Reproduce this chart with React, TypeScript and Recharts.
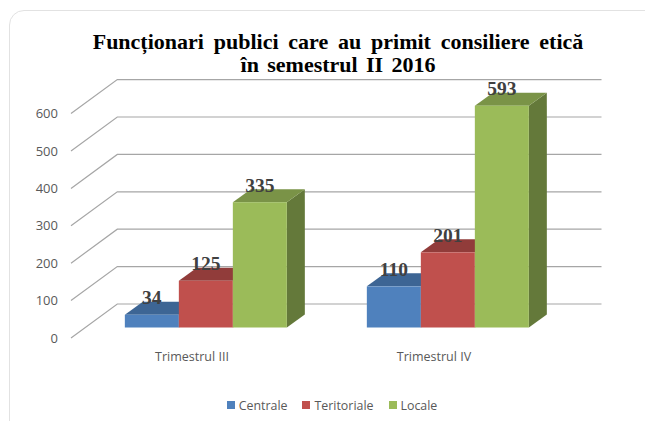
import React from 'react';
import { BarChart, Bar, XAxis, YAxis, CartesianGrid, Legend } from 'recharts';

const categories = ['Trimestrul III', 'Trimestrul IV'];
const centrale = [34, 110];
const teritoriale = [125, 201];
const locale = [335, 593];
const yTicks = [0, 100, 200, 300, 400, 500, 600];

const series = [
    { key: 'centrale', name: 'Centrale', color: '#4F81BD', top: '#3D6594', side: '#35577F' },
    { key: 'teritoriale', name: 'Teritoriale', color: '#C0504D', top: '#913C3A', side: '#7F3533' },
    { key: 'locale', name: 'Locale', color: '#9BBB59', top: '#7A9347', side: '#64793A' },
];

const data = categories.map((name, i) => ({
    name,
    centrale: centrale[i],
    teritoriale: teritoriale[i],
    locale: locale[i],
}));

// fake 3D: where the bars stand inside the floor, and how deep they are
const BAR_DX = 13.5;
const BAR_DY = -10.5;
const DEPTH_X = 18;
const DEPTH_Y = -13;
// wall offset from the front edge of the floor
const WALL_DX = 46.3;
const WALL_DY = -34;
const WALL_RIGHT = 601.5;
const FONT = '"Open Sans", sans-serif';
const SERIF = '"Liberation Serif", serif';

const Box3D = (color: string, top: string, side: string) => (props: any) => {
    const x = props.x + BAR_DX;
    const y = props.y + BAR_DY;
    const { width, height } = props;
    return (
        <g>
            <polygon
                points={`${x + width},${y} ${x + width + DEPTH_X},${y + DEPTH_Y} ${x + width + DEPTH_X},${y + height + DEPTH_Y} ${x + width},${y + height}`}
                fill={side}
            />
            <polygon
                points={`${x},${y} ${x + DEPTH_X},${y + DEPTH_Y} ${x + width + DEPTH_X},${y + DEPTH_Y} ${x + width},${y}`}
                fill={top}
            />
            <rect x={x} y={y} width={width} height={height} fill={color} />
        </g>
    );
};

const BarValue = (props: any) => (
    <text
        x={props.x + props.width / 2 + BAR_DX}
        y={props.y + BAR_DY - 10.5}
        textAnchor="middle"
        fontSize={19.5}
        fontWeight="bold"
        fill="#404040"
        style={{ fontFamily: SERIF }}
    >
        {props.value}
    </text>
);

const WallLine = (props: any) => {
    const { x1, y1 } = props;
    return (
        <polyline
            points={`${x1},${y1} ${x1 + WALL_DX},${y1 + WALL_DY} ${WALL_RIGHT},${y1 + WALL_DY}`}
            fill="none"
            stroke="#A6A6A6"
            strokeWidth={1.2}
        />
    );
};

const CustomLegend = () => (
    <div style={{ display: 'flex', justifyContent: 'center', height: 20, alignItems: 'center', paddingLeft: 124 }}>
        {series.map(s => (
            <div key={s.key} style={{ display: 'flex', alignItems: 'center', marginRight: 15 }}>
                <div style={{ width: 8, height: 8, backgroundColor: s.color, marginRight: 4 }} />
                <span style={{ fontFamily: FONT, fontSize: 12.4, color: '#595959' }}>{s.name}</span>
            </div>
        ))}
    </div>
);

export default function App() {
    return (
        <div style={{ position: 'absolute', left: 0, top: 0, width: 645, height: 421, overflow: 'hidden', background: '#fff' }}>
            <div style={{
                position: 'absolute',
                left: 9,
                top: 10,
                width: 660,
                height: 430,
                boxSizing: 'border-box',
                border: '1.5px solid #E2E2E2',
                borderRadius: 15,
            }} />
            <div style={{
                position: 'absolute',
                left: 0,
                top: 30,
                width: 676,
                textAlign: 'center',
                fontFamily: SERIF,
                fontWeight: 'bold',
                fontSize: 22,
                lineHeight: '23px',
                color: '#000',
                whiteSpace: 'nowrap',
            }}>
                <div style={{ wordSpacing: 4.3 }}>Funcționari publici care au primit consiliere etică</div>
                <div style={{ wordSpacing: 2.8 }}>în semestrul II 2016</div>
            </div>
            <BarChart
                width={645}
                height={421}
                data={data}
                barCategoryGap="16.67%"
                barGap={0}
                margin={{ top: 113.6, right: 90, bottom: 6, left: 0 }}
                style={{ position: 'absolute', left: 0, top: 0 }}
            >
                <CartesianGrid vertical={false} horizontal={WallLine} syncWithTicks />
                <XAxis
                    dataKey="name"
                    height={57}
                    axisLine={false}
                    tickLine={false}
                    tickMargin={8}
                    tick={{ fontFamily: FONT, fontSize: 12.5, fill: '#595959' }}
                />
                <YAxis
                    width={71}
                    domain={[0, 600]}
                    ticks={yTicks}
                    axisLine={false}
                    tickLine={false}
                    tickSize={0}
                    tickMargin={13}
                    tick={{ fontFamily: FONT, fontSize: 13, fill: '#595959' }}
                />
                <Legend height={20} content={<CustomLegend />} />
                {series.map(s => (
                    <Bar
                        key={s.key}
                        dataKey={s.key}
                        name={s.name}
                        fill={s.color}
                        shape={Box3D(s.color, s.top, s.side)}
                        label={BarValue}
                        isAnimationActive={false}
                    />
                ))}
            </BarChart>
        </div>
    );
}
